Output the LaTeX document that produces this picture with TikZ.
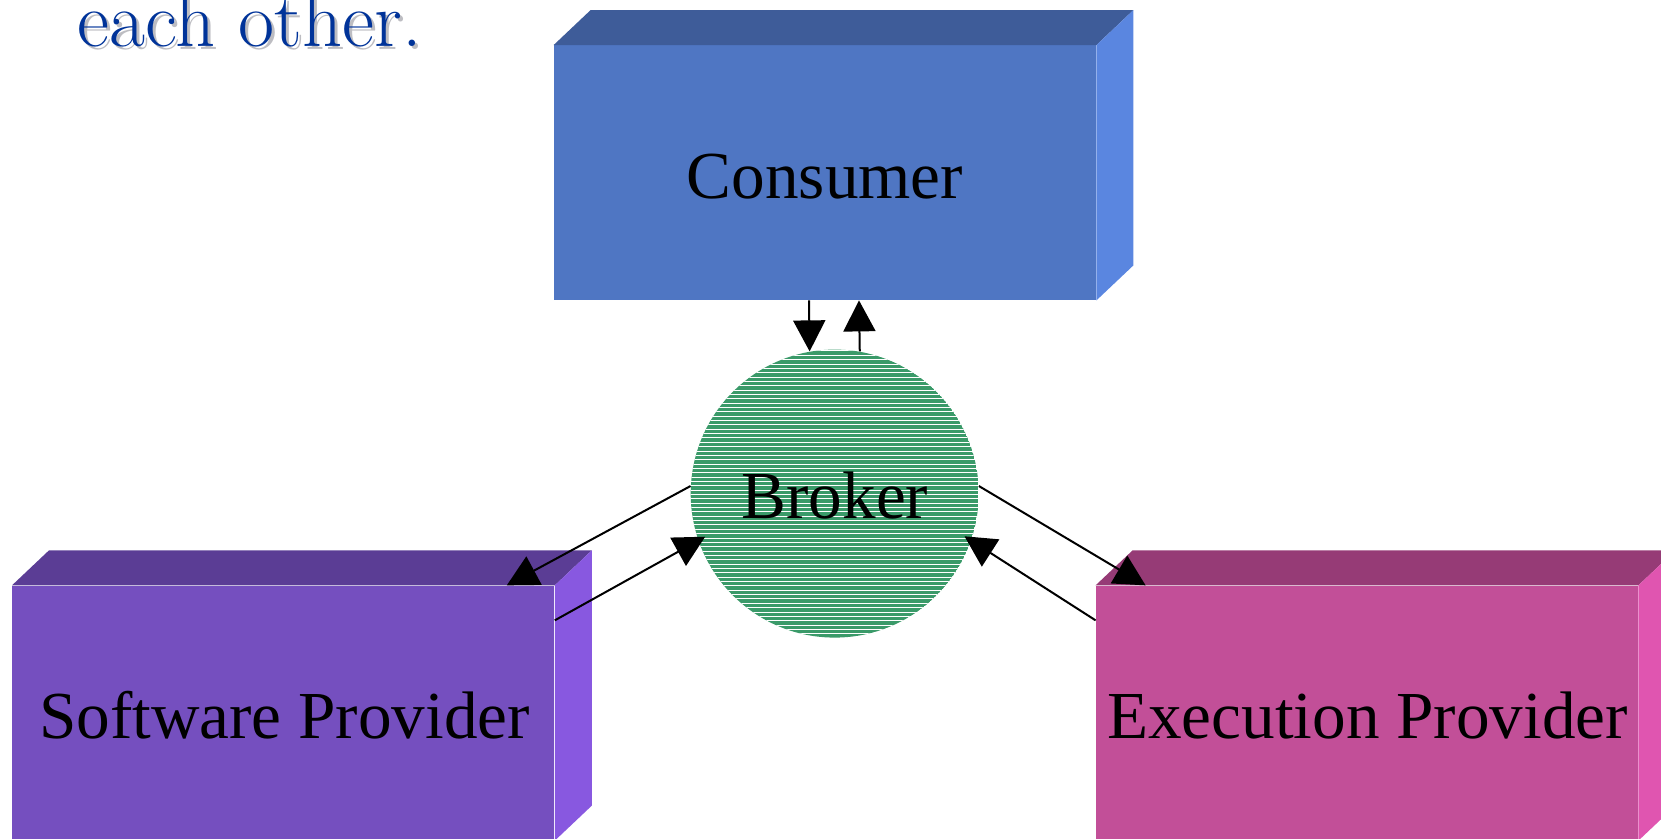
\documentclass[tikz,border=0pt]{standalone}
\usepackage{fontspec}
\newfontfamily\labelfont{Liberation Serif}
\usetikzlibrary{arrows.meta,calc}

\definecolor{consFront}{HTML}{4F76C3}
\definecolor{consTop}{HTML}{3E5C99}
\definecolor{consSide}{HTML}{5A86E0}
\definecolor{softFront}{HTML}{754FBF}
\definecolor{softTop}{HTML}{5B3D95}
\definecolor{softSide}{HTML}{8858E0}
\definecolor{execFront}{HTML}{C24F98}
\definecolor{execTop}{HTML}{963B76}
\definecolor{execSide}{HTML}{E055B0}
\definecolor{brokerGreen}{HTML}{3A9A69}
\definecolor{titleBlue}{HTML}{003399}
\definecolor{titleShadow}{HTML}{BDBDC2}

\tikzset{
  front/.style={rectangle, inner sep=0pt, minimum width=271pt, minimum height=127.25pt},
  boxlabel/.style={font=\labelfont\fontsize{33.6}{40}\selectfont, text=black, anchor=base},
  flow/.style={draw=black, line width=1pt, -{Triangle[length=15.5pt, width=16pt]}},
  headline/.style={anchor=base west, inner sep=0pt, font=\fontsize{39.2}{44}\selectfont},
}

% draw the top and side faces of a block behind its front face
\newcommand{\blockfaces}[3]{%
  \fill[#2] (#1.north west) -- (#1.north east) -- ++(37,-35)
    -- ($(#1.north west)+(37,-35)$) -- cycle;
  \fill[#3] (#1.north east) -- ++(37,-35)
    -- ($(#1.south east)+(37,-35)$) -- (#1.south east) -- cycle;
}

\begin{document}
\begin{tikzpicture}[x=0.5pt, y=-0.5pt]
  \useasboundingbox (0,0) rectangle (1661,839);

  % heading fragment with drop shadow
  \node[headline, text=titleShadow] at (80,50) {each other.};
  \node[headline, text=titleBlue] (title) at (77,47) {each other.};

  % blocks
  \node[front, fill=consFront] (consumer) at (825,172.75) {};
  \blockfaces{consumer}{consTop}{consSide}
  \node[boxlabel] at (825,199) {Consumer};

  \node[front, fill=softFront] (software) at (283.4,713) {};
  \blockfaces{software}{softTop}{softSide}
  \node[boxlabel] at (284.5,738) {Software Provider};

  \node[front, fill=execFront] (execution) at (1367,713) {};
  \blockfaces{execution}{execTop}{execSide}
  \node[boxlabel] at (1367.5,738) {Execution Provider};

  % broker: green disc with fine white horizontal hatching
  \node[circle, inner sep=0pt, minimum size=144pt] (broker) at (834.7,493.6) {};
  \begin{scope}
    \clip (broker.center) circle[radius=72pt];
    \fill[brokerGreen] (broker.center) circle[radius=72pt];
    \foreach \i in {0,...,66}
      \draw[white, line width=0.5pt] (680,351+\i*4.35) -- (990,351+\i*4.35);
  \end{scope}
  \node[boxlabel] at (835,519) {Broker};

  % message flows
  \draw[flow] ($(consumer.south)+(-16,0)$) -- (broker.100);
  \draw[flow] (broker.80) -- ($(consumer.south)+(34,0)$);
  \draw[flow] (broker.177) -- ($(software.north east)+(-48,0)$);
  \draw[flow, shorten >=-4pt] ($(software.north east)+(0,35)$) -- (broker.199);
  \draw[flow] (broker.3) -- ($(execution.north west)+(50,0)$);
  \draw[flow, shorten >=-4pt] ($(execution.north west)+(0,35)$) -- (broker.341);
\end{tikzpicture}
\end{document}
